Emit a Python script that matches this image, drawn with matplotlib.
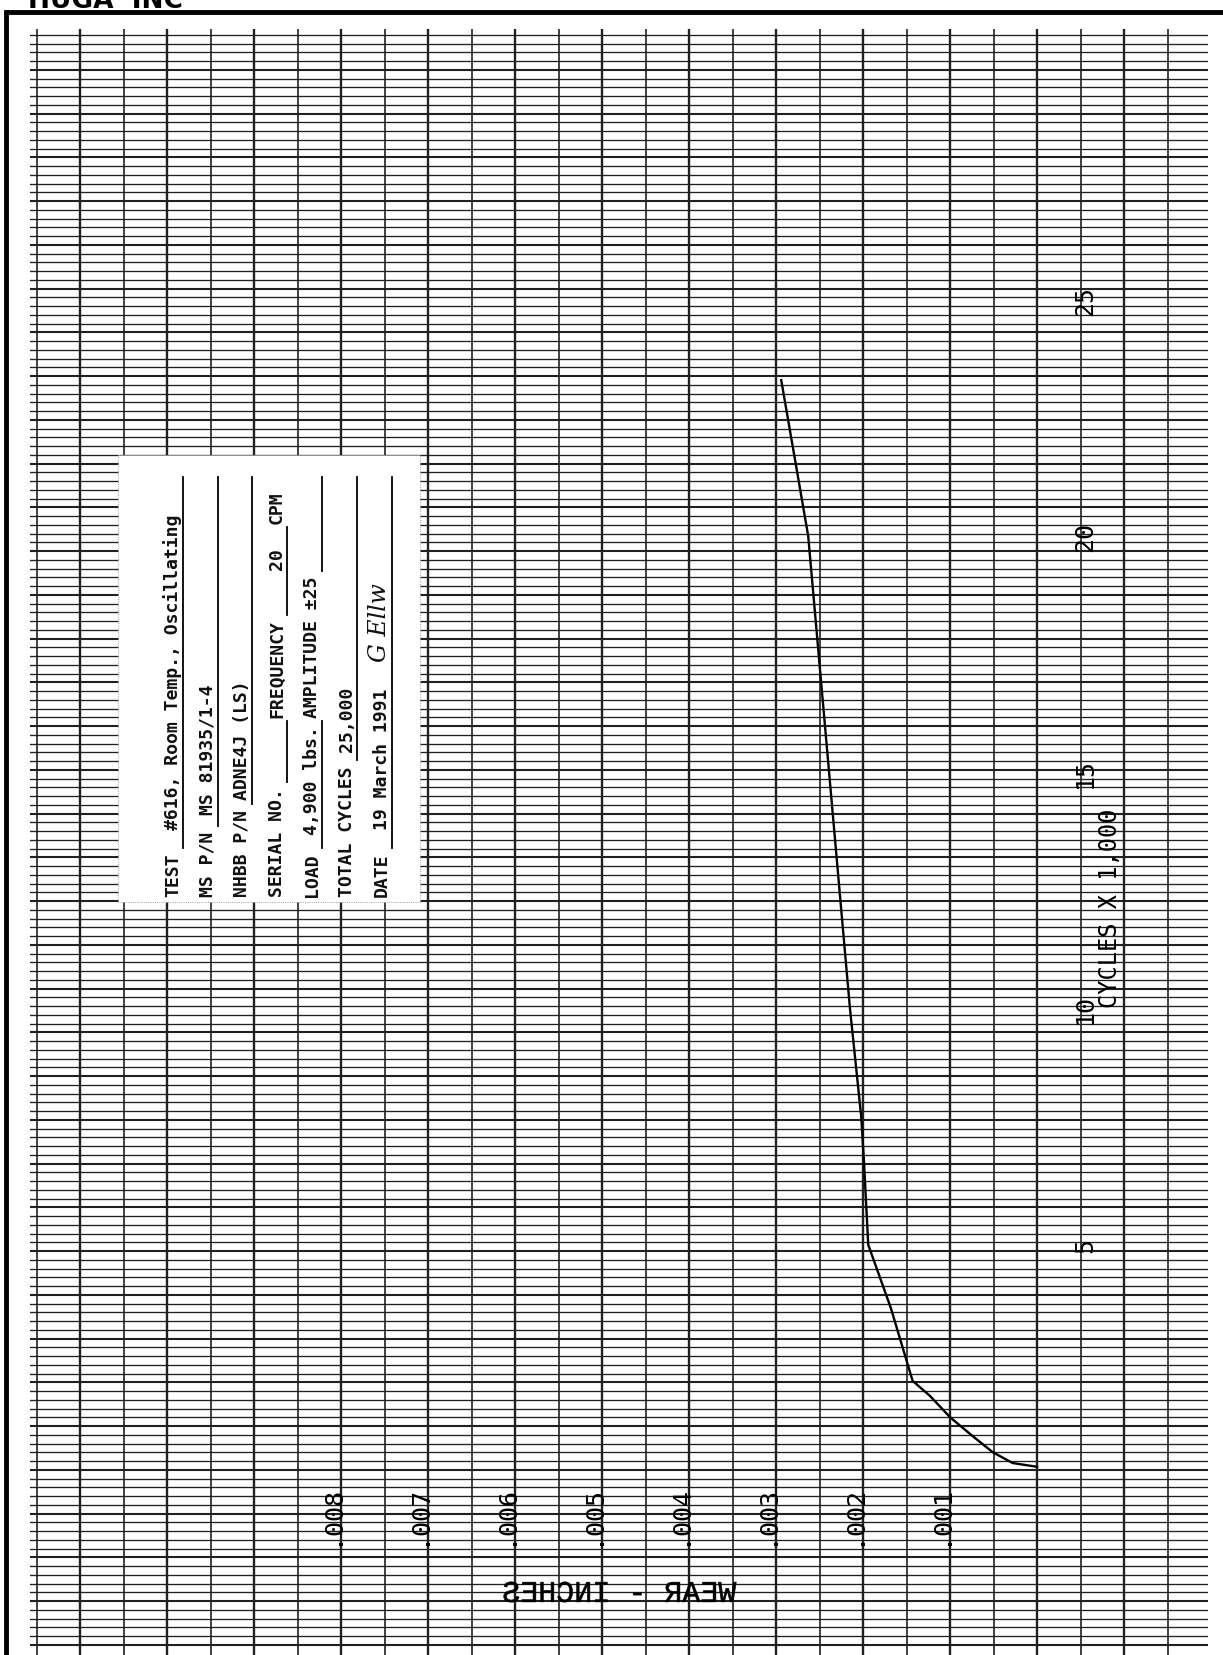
import numpy as np
import matplotlib.pyplot as plt
from matplotlib.textpath import TextPath
from matplotlib.patches import PathPatch, Rectangle
from matplotlib.font_manager import FontProperties
from matplotlib.transforms import Affine2D, offset_copy

# wear test curve (cycles in thousands, wear in inches)
cycles = [0.3, 0.38, 0.61, 0.95, 1.35, 1.8, 2.12, 3.66, 5.0, 6.8, 7.7, 10, 15, 20, 23.3]
wear   = [0, 0.00028, 0.00051, 0.00074, 0.001, 0.00123, 0.00143, 0.00168,
          0.00194, 0.00199, 0.00202, 0.00215, 0.00239, 0.00263, 0.00294]

wear_ticks  = [0.001, 0.002, 0.003, 0.004, 0.005, 0.006, 0.007, 0.008]
wear_labels = ['.001', '.002', '.003', '.004', '.005', '.006', '.007', '.008']
cycle_ticks  = [5, 10, 15, 20, 25]
cycle_labels = ['5', '10', '15', '20', '25']

# data card
card_labels = ['TEST', 'MS P/N', 'NHBB P/N', 'SERIAL NO.', 'LOAD', 'TOTAL CYCLES', 'DATE']
card_values = ['#616, Room Temp., Oscillating', 'MS 81935/1-4', 'ADNE4J (LS)', '',
               '4,900 lbs.', '25,000', '19 March 1991']

W, H = 1223, 1656
fig = plt.figure(figsize=(W / 100, H / 100), dpi=100)
fig.patch.set_facecolor('white')

# graph paper area (pixels on the sheet)
gx0, gx1, gy0, gy1 = 30, 1208, 30, 1656
ax = fig.add_axes([gx0 / W, 1 - gy1 / H, (gx1 - gx0) / W, (gy1 - gy0) / H])
ax.set_xlim(0.011575, -0.0019655)     # wear grows to the left
ax.set_ylim(-3.683, 30.73)
ax.axis('off')

ink = '#202020'
# paper rulings: horizontal every 8.75 px (heavier every 5th), vertical every .0005
step = 8.75 / 47.25
for k, c in enumerate(np.arange(0.233 - 20 * step, 30.8, step)):
    ax.axhline(c, color=ink, lw=1.5 if k % 5 == 0 else 0.95, zorder=1)
for w in np.arange(-0.0015, 0.01151, 0.0005):
    heavy = abs(w * 1000 - round(w * 1000)) < 1e-6
    ax.axvline(w, color=ink, lw=1.7 if heavy else 1.2, zorder=1)

ax.plot(wear, cycles, color='black', lw=1.7, zorder=3)

tick_font = dict(family='DejaVu Sans Mono', fontsize=18, color='black')
off = offset_copy(ax.transData, fig=fig, x=-3, y=0, units='dots')
for w, lab in zip(wear_ticks, wear_labels):
    ax.text(w, -1.33, lab, transform=off, rotation=90, rotation_mode='anchor',
            ha='left', va='baseline', zorder=4, **tick_font)
for c, lab in zip(cycle_ticks, cycle_labels):
    ax.text(-0.000632, c, lab, rotation=90, rotation_mode='anchor',
            ha='center', va='baseline', zorder=4, **tick_font)
ax.text(-0.00092, 12.15, 'CYCLES X 1,000', rotation=90, rotation_mode='anchor',
        ha='center', va='baseline', zorder=4, family='DejaVu Sans Mono', fontsize=17)

# page overlay in pixel units (y down)
page = fig.add_axes([0, 0, 1, 1], zorder=5)
page.set_xlim(0, W)
page.set_ylim(H, 0)
page.axis('off')
page.patch.set_alpha(0)

page.plot([6, 6], [11, H], color='black', lw=3.5, solid_capstyle='butt')
page.plot([4, W], [13, 13], color='black', lw=3.5, solid_capstyle='butt')
page.text(28, 8, 'HUGA  INC', fontsize=19, weight='bold', va='baseline', ha='left',
          family='DejaVu Sans')

# mirrored axis title printed on the back of the sheet
fp = FontProperties(family='Liberation Mono')
tp = TextPath((0, 0), 'WEAR - INCHES', size=30, prop=fp)
bb = tp.get_extents()
tr = Affine2D().translate(-(bb.x0 + bb.x1) / 2, -(bb.y0 + bb.y1) / 2).scale(-1, -1).translate(620, 1593)
page.add_patch(PathPatch(tr.transform_path(tp), facecolor='black', edgecolor='black', lw=0.4))

# data card
page.add_patch(Rectangle((118, 456), 420 - 118, 903 - 456, facecolor='white',
                         edgecolor='#888888', lw=0.6, ls=':'))
tf = dict(family='DejaVu Sans Mono', fontsize=13.1, weight='bold', color='#111111',
          rotation=90, rotation_mode='anchor', ha='left', va='baseline')
row_x = [178, 213, 247, 282, 317, 352, 387]
label_y = 897
pitch = 11.0
value_y = [830, 815, 800, None, 835, 752, 830]
top = 478
for i, (lab, val) in enumerate(zip(card_labels, card_values)):
    xb, ux = row_x[i], row_x[i] + 5
    page.text(xb, label_y, lab, **tf)
    y_end = label_y - len(lab) * pitch - 4
    if i == 3:
        page.plot([ux, ux], [y_end, 722], color='black', lw=1.3)
        page.text(xb, 718, 'FREQUENCY', **tf)
        page.plot([ux, ux], [616, 528], color='black', lw=1.3)
        page.text(xb, 570, '20', **tf)
        page.text(xb, 524, 'CPM', **tf)
    elif i == 4:
        page.plot([ux, ux], [y_end, 722], color='black', lw=1.3)
        page.text(xb, value_y[i], val, **tf)
        page.text(xb, 718, 'AMPLITUDE \u00b125', **tf)
        page.plot([ux, ux], [572, top], color='black', lw=1.3)
    else:
        page.plot([ux, ux], [y_end, top], color='black', lw=1.3)
        page.text(xb, value_y[i], val, **tf)
# signature
page.text(386, 662, 'G Ellw', family='DejaVu Serif', style='italic', fontsize=17,
          rotation=90, rotation_mode='anchor', ha='left', va='baseline', color='#111111')

fig.savefig('out.png', dpi=100, facecolor='white')
